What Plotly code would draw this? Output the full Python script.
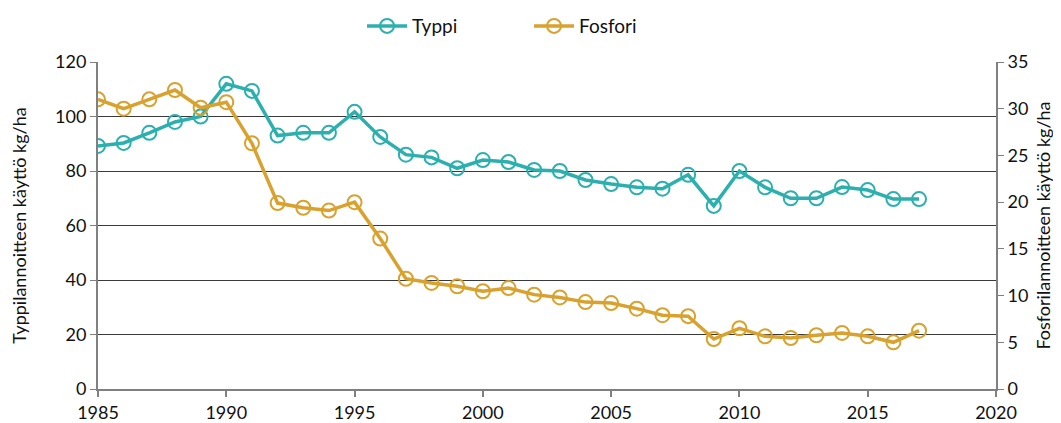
import plotly.graph_objects as go

years = list(range(1985, 2018))
typpi = [89.2, 90.3, 94, 98, 100, 112, 109.4, 93, 94, 94, 101.7, 92.5, 86, 85, 81, 84,
         83.3, 80.4, 80, 76.7, 75.2, 74, 73.5, 78.6, 67.2, 80, 74, 70, 70, 74.1, 73, 69.7, 69.7]
fosfori = [31, 30.0, 31, 32, 30.1, 30.7, 26.3, 19.9, 19.4, 19.1, 20, 16.1, 11.8, 11.35, 11.0, 10.46,
           10.8, 10.1, 9.8, 9.3, 9.2, 8.6, 7.9, 7.8, 5.35, 6.5, 5.64, 5.46, 5.75, 6.0, 5.64, 5.0, 6.24]

TEAL = "#2BB0AE"
GOLD = "#D9A12E"
FONT = "Lato, 'Open Sans', sans-serif"

fig = go.Figure()
fig.add_trace(go.Scatter(
    x=years, y=typpi, name="Typpi", mode="lines+markers",
    line=dict(color=TEAL, width=3.5),
    marker=dict(symbol="circle-open", size=14, color=TEAL, line=dict(width=2, color=TEAL)),
))
fig.add_trace(go.Scatter(
    x=years, y=fosfori, name="Fosfori", mode="lines+markers", yaxis="y2",
    line=dict(color=GOLD, width=3.5),
    marker=dict(symbol="circle-open", size=14, color=GOLD, line=dict(width=2, color=GOLD)),
))

fig.update_layout(
    width=1061, height=423,
    margin=dict(l=90, r=73, t=54, b=42, autoexpand=False),
    paper_bgcolor="white", plot_bgcolor="white",
    font=dict(family=FONT, size=18, color="#111"),
    showlegend=True,
    legend=dict(orientation="h", x=0.48, xanchor="center", y=1.11, yanchor="middle",
                font=dict(size=19), itemwidth=40, tracegroupgap=0,
                entrywidthmode="pixels", entrywidth=112),
    xaxis=dict(range=[1985, 2020], tickmode="array", tickvals=list(range(1985, 2021, 5)),
               showgrid=False, showline=True, linecolor="#808080", linewidth=2,
               ticks="outside", ticklen=6, tickcolor="#808080", tickwidth=1.5,
               zeroline=False, tickfont=dict(size=18), automargin=False),
    yaxis=dict(title=dict(text="Typpilannoitteen käyttö kg/ha", font=dict(size=18), standoff=24),
               range=[0, 120], tickvals=[0, 20, 40, 60, 80, 100, 120],
               showgrid=True, gridcolor="#3a3a3a", gridwidth=1,
               showline=True, linecolor="#808080", linewidth=2,
               ticks="outside", ticklen=6, tickcolor="#808080",
               zeroline=False, tickfont=dict(size=18), automargin=False),
    yaxis2=dict(title=dict(text="Fosforilannoitteen käyttö kg/ha", font=dict(size=18), standoff=10),
                range=[0, 35], tickvals=[0, 5, 10, 15, 20, 25, 30, 35],
                overlaying="y", side="right", showgrid=False,
                showline=True, linecolor="#808080", linewidth=2,
                ticks="outside", ticklen=6, tickcolor="#808080",
                zeroline=False, tickfont=dict(size=18), automargin=False),
)

fig.write_html("out.html")
